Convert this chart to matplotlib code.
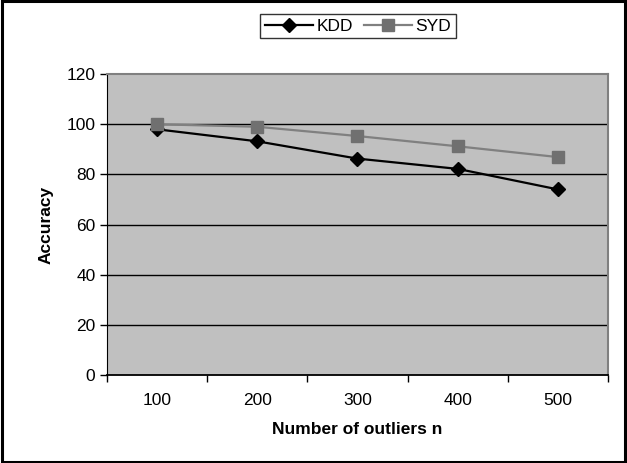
import numpy as np
import matplotlib.pyplot as plt
from matplotlib.patches import Rectangle

categories = ["100", "200", "300", "400", "500"]
kdd = [98.0, 93.2, 86.3, 82.2, 74.0]
syd = [100.0, 99.0, 95.3, 91.2, 86.9]
y_ticks = [0, 20, 40, 60, 80, 100, 120]

FS = 12.5

fig = plt.figure(figsize=(6.27, 4.63), dpi=100)
plt.rcParams["font.family"] = ["Liberation Sans", "DejaVu Sans"]

# outer chart border
fig.patches.append(Rectangle((0.003, 0.003), 0.994, 0.994, transform=fig.transFigure,
                             fill=False, edgecolor="black", linewidth=2.2))

ax = fig.add_axes([0.170, 0.190, 0.800, 0.650])
ax.set_facecolor("#c0c0c0")

x = np.arange(len(categories))
ax.set_xlim(-0.5, len(categories) - 0.5)
ax.set_ylim(0, 120)

for yv in y_ticks[1:-1]:
    ax.axhline(yv, color="black", linewidth=1.0, zorder=1)

ax.plot(x, kdd, color="black", linewidth=1.6, marker="D", markersize=7,
        markerfacecolor="black", markeredgecolor="black", label="KDD", zorder=3)
ax.plot(x, syd, color="#808080", linewidth=1.6, marker="s", markersize=8,
        markerfacecolor="#707070", markeredgecolor="#707070", label="SYD", zorder=3)

ax.set_yticks(y_ticks)
ax.set_yticklabels([str(v) for v in y_ticks], fontsize=FS)
ax.set_xticks(x)
ax.set_xticklabels(categories, fontsize=FS)
ax.tick_params(axis="x", length=0, pad=13)
ax.tick_params(axis="y", direction="out", length=5, width=1, pad=3)

# tick marks between categories
ax.set_xticks(np.arange(-0.5, len(categories)), minor=True)
ax.tick_params(axis="x", which="minor", direction="out", length=5, width=1)

ax.spines["left"].set_color("black")
ax.spines["bottom"].set_color("black")
ax.spines["bottom"].set_linewidth(1.3)
ax.spines["top"].set_color("#808080")
ax.spines["right"].set_color("#808080")
ax.spines["top"].set_linewidth(1.5)
ax.spines["right"].set_linewidth(1.5)

ax.set_xlabel("Number of outliers n", fontsize=FS, fontweight="bold", labelpad=10)
ax.set_ylabel("Accuracy", fontsize=FS, fontweight="bold", labelpad=9)

leg = fig.legend(loc="center", bbox_to_anchor=(0.571, 0.943), ncol=2, fontsize=FS,
                 frameon=True, fancybox=False, edgecolor="black", handlelength=2.8,
                 handletextpad=0.2, columnspacing=0.6, borderpad=0.25)
leg.get_frame().set_linewidth(1.0)

fig.savefig("out.png", dpi=100)
